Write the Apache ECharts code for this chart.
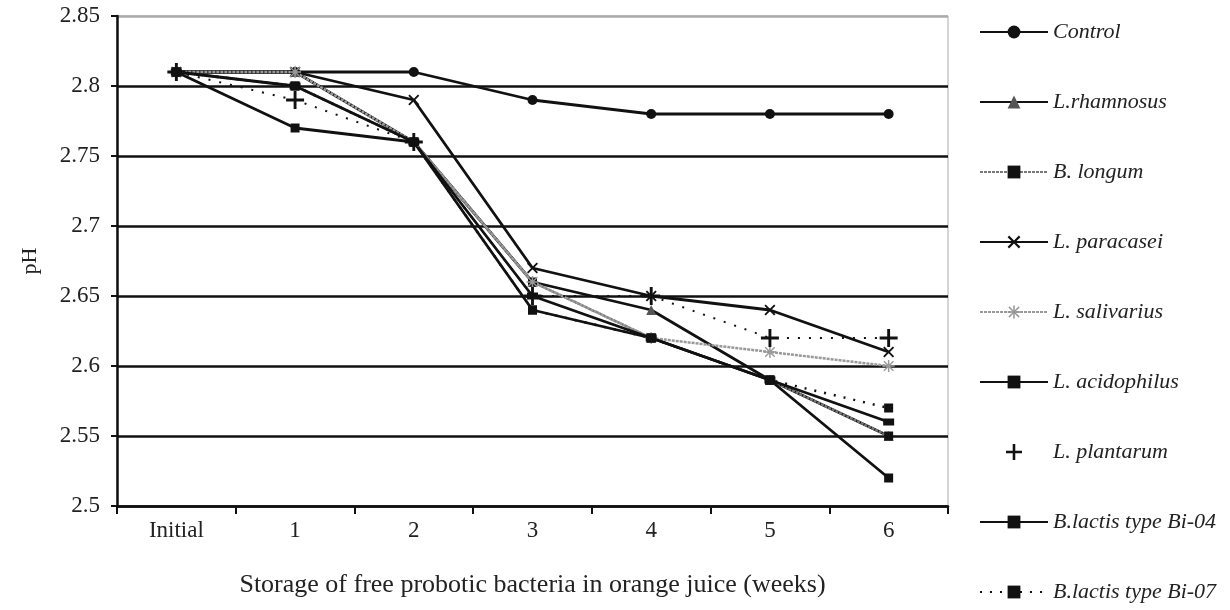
<!DOCTYPE html>
<html>
<head>
<meta charset="utf-8">
<script src="https://cdn.jsdelivr.net/npm/echarts@6/dist/echarts.min.js"></script>
<style>
html,body{margin:0;padding:0;background:#fff;}
#chart{width:1230px;height:610px;}
</style>
</head>
<body>
<div id="chart"></div>
<script>
// categories / values
var weeks = ['Initial', '1', '2', '3', '4', '5', '6'];
var control      = [2.81, 2.81, 2.81, 2.79, 2.78, 2.78, 2.78];
var rhamnosus    = [2.81, 2.81, 2.76, 2.66, 2.64, 2.59, 2.55];
var longum       = [2.81, 2.80, 2.76, 2.66, 2.62, 2.59, 2.55];
var paracasei    = [2.81, 2.81, 2.79, 2.67, 2.65, 2.64, 2.61];
var salivarius   = [2.81, 2.81, 2.76, 2.66, 2.62, 2.61, 2.60];
var acidophilus  = [2.81, 2.77, 2.76, 2.64, 2.62, 2.59, 2.52];
var plantarum    = [2.81, 2.79, 2.76, 2.65, 2.65, 2.62, 2.62];
var bi04         = [2.81, 2.80, 2.76, 2.65, 2.62, 2.59, 2.56];
var bi07         = [2.81, 2.80, 2.76, 2.64, 2.62, 2.59, 2.57];

var serif = '"Liberation Serif", "DejaVu Serif", serif';

// marker shapes
var plusPath = 'path://M4.2,0 H5.8 V4.2 H10 V5.8 H5.8 V10 H4.2 V5.8 H0 V4.2 H4.2 Z';
var crossPath = 'path://M1.2,0 L5,3.8 L8.8,0 L10,1.2 L6.2,5 L10,8.8 L8.8,10 L5,6.2 L1.2,10 L0,8.8 L3.8,5 L0,1.2 Z';
var starPath = 'path://M4.4,0 H5.6 V3.6 L8.6,0.6 L9.4,1.4 L6.4,4.4 H10 V5.6 H6.4 L9.4,8.6 L8.6,9.4 L5.6,6.4 V10 H4.4 V6.4 L1.4,9.4 L0.6,8.6 L3.6,5.6 H0 V4.4 H3.6 L0.6,1.4 L1.4,0.6 L4.4,3.6 Z';

function mk(name, data, o) {
	return {
		name: name,
		type: 'line',
		data: data,
		symbol: o.symbol,
		symbolSize: o.size,
		showSymbol: true,
		itemStyle: { color: o.mcolor || '#111' },
		lineStyle: { color: o.lcolor || '#111', width: o.width || 2.8, type: o.ltype || 'solid' },
		animation: false
	};
}

var series = [
	mk('Control', control, { symbol: 'circle', size: 10 }),
	mk('L.rhamnosus', rhamnosus, { symbol: 'triangle', size: 10, mcolor: '#555' }),
	mk('B. longum', longum, { symbol: 'rect', size: 9, lcolor: '#777', ltype: [3, 1], width: 2.5 }),
	mk('L. paracasei', paracasei, { symbol: crossPath, size: 11 }),
	mk('L. salivarius', salivarius, { symbol: starPath, size: 12, mcolor: '#999', lcolor: '#999', ltype: [3, 1], width: 2.5 }),
	mk('L. acidophilus', acidophilus, { symbol: 'rect', size: 9 }),
	mk('L. plantarum', plantarum, { symbol: plusPath, size: 18, ltype: [2, 9], width: 2 }),
	mk('B.lactis type Bi-04', bi04, { symbol: 'rect', size: [11, 7] }),
	mk('B.lactis type Bi-07', bi07, { symbol: 'rect', size: 9, ltype: [2, 8], width: 2.5 })
];

var chart = echarts.init(document.getElementById('chart'));
chart.setOption({
	backgroundColor: '#fff',
	animation: false,
	grid: {
		left: 117, right: 282, top: 16, bottom: 104,
		show: true, borderColor: '#aaa', borderWidth: 1
	},
	legend: {
		orient: 'vertical',
		left: 979,
		top: 21,
		bottom: 0,
		padding: 0,
		itemWidth: 68,
		itemHeight: 16,
		itemGap: 48,
		textStyle: { fontFamily: serif, fontStyle: 'italic', fontSize: 22, color: '#222' },
		data: series.map(function (s) {
			if (s.name === 'L. plantarum') return { name: s.name, icon: plusPath };
			return { name: s.name };
		})
	},
	xAxis: {
		type: 'category',
		data: weeks,
		boundaryGap: true,
		name: 'Storage of free probotic bacteria in orange juice (weeks)',
		nameLocation: 'middle',
		nameGap: 66,
		nameTextStyle: { fontFamily: serif, fontSize: 26, color: '#222' },
		axisLine: { lineStyle: { color: '#111', width: 2.5 } },
		axisTick: { show: true, length: 8, lineStyle: { color: '#111', width: 2 } },
		axisLabel: { fontFamily: serif, fontSize: 23, color: '#222', margin: 13 },
		splitLine: { show: false }
	},
	yAxis: {
		type: 'value',
		min: 2.5,
		max: 2.85,
		interval: 0.05,
		name: 'pH',
		nameLocation: 'middle',
		nameGap: 76,
		nameTextStyle: { fontFamily: serif, fontSize: 22, color: '#222' },
		axisLine: { show: true, lineStyle: { color: '#111', width: 2.5 } },
		axisTick: { show: true, inside: false, length: 6, lineStyle: { color: '#111', width: 2 } },
		axisLabel: { fontFamily: serif, fontSize: 23, color: '#222', margin: 17 },
		splitLine: {
			show: true,
			lineStyle: { color: ['#111', '#111', '#111', '#111', '#111', '#111', '#111', '#aaa'], width: 2.5 }
		}
	},
	series: series
});
</script>
</body>
</html>
